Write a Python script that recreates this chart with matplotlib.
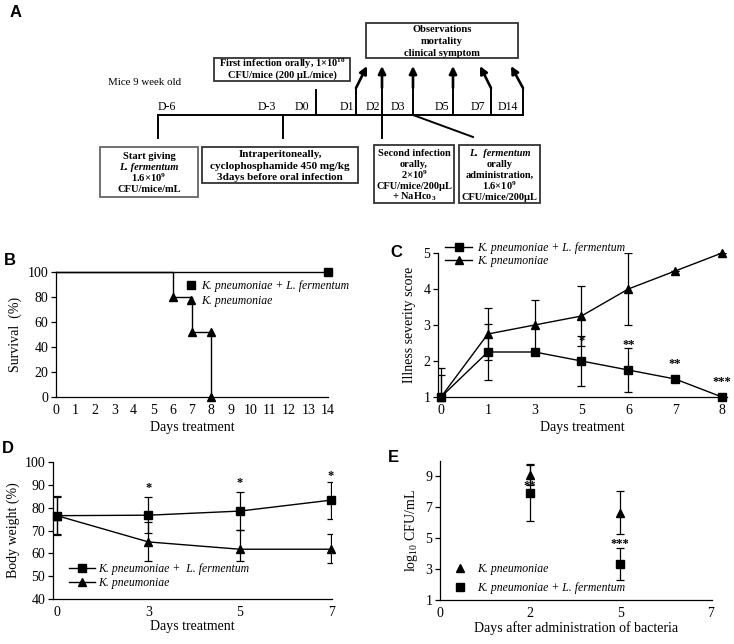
import matplotlib.pyplot as plt
from matplotlib.lines import Line2D
from matplotlib.patches import Rectangle

plt.rcParams['font.family'] = ['Liberation Serif', 'DejaVu Serif']
plt.rcParams['mathtext.fontset'] = 'custom'
plt.rcParams['mathtext.rm'] = 'Liberation Serif'
plt.rcParams['mathtext.it'] = 'Liberation Serif:italic'
plt.rcParams['mathtext.bf'] = 'Liberation Serif:bold'

KL = 'K. pneumoniae + L. fermentum'
KP = 'K. pneumoniae'

# ---- A: study timeline ----
timeline_days = ['D-6', 'D-3', 'D0', 'D1', 'D2', 'D3', 'D5', 'D7', 'D14']
arrow_days = ['D1', 'D2', 'D3', 'D5', 'D7', 'D14']
box_first = ['First infection orally, 1×10$^{\\mathbf{10}}$', 'CFU/mice (200 µL/mice)']
box_obs = ['Observations', 'mortality', 'clinical symptom']
box_start = ['Start giving', 'L. fermentum', '1.6×10$^{\\mathbf{9}}$', 'CFU/mice/mL']
box_ip = ['Intraperitoneally,', 'cyclophosphamide 450 mg/kg', '3days before oral infection']
box_second = ['Second infection', 'orally,', '2×10$^{\\mathbf{9}}$', 'CFU/mice/200µL', '+ NaHco$_{\\mathbf{3}}$']
box_lf = ['L.  fermentum', 'orally', 'administration,', '1.6×10$^{\\mathbf{9}}$', 'CFU/mice/200µL']

# ---- B: survival ----
surv_ticks = list(range(15))
surv_kl_days = [0, 14]
surv_kl = [100, 100]
surv_kp_days = [0, 6, 7, 8, 8]
surv_kp = [100, 80, 52, 52, 0]

# ---- C: illness severity ----
illness_days = ['0', '1', '3', '5', '6', '7', '8']
illness_kl = [1.0, 2.25, 2.25, 2.0, 1.75, 1.5, 1.0]
illness_kl_err = [0.8, 0.78, 0.0, 0.7, 0.6, 0.0, 0.0]
illness_kp = [1.0, 2.75, 3.0, 3.25, 4.0, 4.5, 5.0]
illness_kp_err = [0.6, 0.72, 0.7, 0.83, 1.0, 0.0, 0.0]
illness_sig = ['', '', '', '*', '**', '**', '***']
illness_sig_y = [0, 0, 0, 2.55, 2.45, 1.92, 1.42]

# ---- D: body weight ----
weight_days = ['0', '3', '5', '7']
weight_kl = [76.5, 76.7, 78.5, 83.3]
weight_kl_err = [8.5, 8.0, 8.2, 8.1]
weight_kp = [76.5, 65.0, 61.8, 61.8]
weight_kp_lo = [8.0, 8.4, 5.2, 6.1]
weight_kp_hi = [8.0, 8.7, 8.5, 6.6]
weight_sig = ['', '*', '*', '*']
weight_sig_y = [0, 88.6, 90.8, 93.9]

# ---- E: bacterial load ----
cfu_ticks = ['0', '2', '5', '7']
cfu_pos = [1, 2]
cfu_kp = [9.1, 6.65]
cfu_kp_err = [0.67, 1.4]
cfu_kl = [7.95, 3.34]
cfu_kl_err = [1.85, 1.05]
cfu_sig = ['**', '***']
cfu_sig_y = [8.35, 4.65]

W, H = 734, 644
fig = plt.figure(figsize=(W / 100, H / 100), dpi=100)


def rect(left, top, right, bottom):
    return [left / W, 1 - bottom / H, (right - left) / W, (bottom - top) / H]


def fig_xy(x, y):
    return (x / W, 1 - y / H)


# overlay for panel A and panel letters (pixel coordinates)
ov = fig.add_axes([0, 0, 1, 1])
ov.set_xlim(0, W)
ov.set_ylim(H, 0)
ov.axis('off')

lw_a = 1.4
tl_y = 115
tl_x = [158, 283, 316, 356, 382, 413, 453, 491, 523]
lab_x = [167, 267, 302, 347, 373, 398, 442, 478, 508]
ov.plot([tl_x[0], tl_x[-1]], [tl_y, tl_y], color='k', lw=lw_a)
for d, x, lx in zip(timeline_days, tl_x, lab_x):
    ov.text(lx, 107, d, ha='center', va='center', fontsize=8.5)
    if d in ('D-6', 'D-3'):
        ov.plot([x, x], [tl_y, 138], color='k', lw=lw_a)
    elif d == 'D2':
        ov.plot([x, x], [87, 138], color='k', lw=lw_a)
    else:
        ov.plot([x, x], [tl_y, 88 if d != 'D0' else 90], color='k', lw=lw_a)
arrow_dx = {'D1': 11, 'D2': 0, 'D3': 0, 'D5': 0, 'D7': -11, 'D14': -12}
for d in arrow_days:
    x = tl_x[timeline_days.index(d)]
    ov.annotate('', xy=(x + arrow_dx[d], 66), xytext=(x, 88),
                arrowprops=dict(arrowstyle='-|>', color='k', lw=1.9,
                                mutation_scale=11, shrinkA=0, shrinkB=0))
d3 = tl_x[timeline_days.index('D3')]
ov.plot([d3, 473], [tl_y, 137], color='k', lw=lw_a)
ov.text(108, 82, 'Mice 9 week old', ha='left', va='center', fontsize=7.8)


def box(x0, y0, x1, y1, lines, ys, size, italic_lines=(), ec='#333333'):
    ov.add_patch(Rectangle((x0, y0), x1 - x0, y1 - y0, fill=False, ec=ec, lw=1.3))
    for i, (t, y) in enumerate(zip(lines, ys)):
        ov.text((x0 + x1) / 2, y, t, ha='center', va='center', fontsize=size,
                fontweight='bold',
                fontstyle='italic' if i in italic_lines else 'normal')


box(214, 58, 350, 81, box_first, [63.5, 75.5], 7.5)
box(366, 23, 518, 58, box_obs, [29.5, 41.5, 53], 7.6)
box(100, 147, 198, 197, box_start, [156, 167, 177.5, 189], 7.6, (1,), ec='#666666')
box(202, 147, 358, 183, box_ip, [154.5, 166, 177], 8.0)
box(374, 145, 454, 203, box_second, [153, 164, 175, 186, 197], 7.5)
box(459, 145, 540, 203, box_lf, [153, 164, 175, 186, 197], 7.5, (0,))

for letter, x, y in [('A', 16, 12), ('B', 10, 260), ('C', 396, 252),
                     ('D', 8, 448), ('E', 393, 457)]:
    ov.text(x, y, letter, ha='center', va='center', fontsize=12,
            fontweight='bold', family='Liberation Sans')


def style(ax):
    for s in ('top', 'right'):
        ax.spines[s].set_visible(False)
    for s in ('left', 'bottom'):
        ax.spines[s].set_linewidth(0.9)
    ax.tick_params(axis='y', direction='out', length=3.5, width=0.9, labelsize=10, pad=2)
    ax.tick_params(axis='x', length=0, labelsize=10, pad=5)
    ax.set_facecolor('none')


eb = dict(color='k', ecolor='k', elinewidth=0.9, capsize=3, capthick=0.9)
leg_kw = dict(frameon=False, prop={'style': 'italic', 'size': 8.5}, borderpad=0,
              borderaxespad=0)


def series(ax, x, y, err, marker, **kw):
    c = ax.errorbar(x, y, yerr=err, marker=marker, ms=6, **eb, **kw)
    c.lines[0].set_clip_on(False)
    return c


# ---- B ----
axB = fig.add_axes(rect(56, 272, 328, 397))
style(axB)
axB.plot(surv_kl_days, surv_kl, color='k', lw=1.0, clip_on=False)
axB.plot(surv_kl_days[-1:], surv_kl[-1:], 's', color='k', ms=5.5, clip_on=False)
axB.plot(surv_kp_days, surv_kp, color='k', lw=1.0, drawstyle='steps-post', clip_on=False)
axB.plot(surv_kp_days[1:], surv_kp[1:], '^', color='k', ms=5.5, clip_on=False)
axB.set_xlim(0, 14)
axB.set_ylim(0, 100)
axB.set_xticks(surv_ticks)
axB.set_yticks([0, 20, 40, 60, 80, 100])
axB.set_xlabel('Days treatment', fontsize=10, labelpad=3)
axB.set_ylabel('Survival  (%)', fontsize=10, labelpad=4)
axB.legend([Line2D([], [], marker='s', ls='none', color='k', ms=5.5),
            Line2D([], [], marker='^', ls='none', color='k', ms=5.5)], [KL, KP],
           loc='center left', bbox_to_anchor=fig_xy(185, 293.5),
           bbox_transform=fig.transFigure, handlelength=1.0, handletextpad=0.35,
           labelspacing=0.3, **leg_kw)

# ---- C ----
axC = fig.add_axes(rect(438, 253, 727, 397))
style(axC)
xc = list(range(len(illness_days)))
series(axC, xc, illness_kl, illness_kl_err, 's', lw=1.0)
series(axC, xc, illness_kp, illness_kp_err, '^', lw=1.0)
for x, s, y in zip(xc, illness_sig, illness_sig_y):
    if s:
        axC.text(x, y, s, ha='center', va='center', fontsize=9, fontweight='bold')
axC.set_xlim(-0.064, 6.107)
axC.set_ylim(1, 5)
axC.set_xticks(xc)
axC.set_xticklabels(illness_days)
axC.set_yticks([1, 2, 3, 4, 5])
axC.set_xlabel('Days treatment', fontsize=10, labelpad=3)
axC.set_ylabel('Illness severity score', fontsize=10, labelpad=5)
axC.legend([Line2D([], [], color='k', marker='s', ms=6, lw=1.0),
            Line2D([], [], color='k', marker='^', ms=6, lw=1.0)], [KL, KP],
           loc='center left', bbox_to_anchor=fig_xy(445, 254.5),
           bbox_transform=fig.transFigure, handlelength=2.3, handletextpad=0.4,
           labelspacing=0.1, **leg_kw)

# ---- D ----
axD = fig.add_axes(rect(53, 462, 332, 599))
style(axD)
xd = list(range(len(weight_days)))
series(axD, xd, weight_kl, weight_kl_err, 's', lw=1.0)
series(axD, xd, weight_kp, [weight_kp_lo, weight_kp_hi], '^', lw=1.0)
for x, s, y in zip(xd, weight_sig, weight_sig_y):
    if s:
        axD.text(x, y, s, ha='center', va='center', fontsize=9, fontweight='bold')
axD.set_xlim(-0.044, 3.01)
axD.set_ylim(40, 100)
axD.set_xticks(xd)
axD.set_xticklabels(weight_days)
axD.set_yticks(range(40, 101, 10))
axD.set_xlabel('Days treatment', fontsize=10, labelpad=1)
axD.set_ylabel('Body weight (%)', fontsize=10, labelpad=3)
axD.legend([Line2D([], [], color='k', marker='s', ms=6, lw=1.0),
            Line2D([], [], color='k', marker='^', ms=6, lw=1.0)],
           ['K. pneumoniae +  L. fermentum', KP],
           loc='center left', bbox_to_anchor=fig_xy(69, 576),
           bbox_transform=fig.transFigure, handlelength=2.2, handletextpad=0.25,
           labelspacing=0.2, **leg_kw)

# ---- E ----
axE = fig.add_axes(rect(440, 461, 712, 600))
style(axE)
series(axE, cfu_pos, cfu_kp, cfu_kp_err, '^', ls='none')
series(axE, cfu_pos, cfu_kl, cfu_kl_err, 's', ls='none')
for x, s, y in zip(cfu_pos, cfu_sig, cfu_sig_y):
    axE.text(x, y, s, ha='center', va='center', fontsize=9, fontweight='bold')
axE.set_xlim(0, 3.02)
axE.set_ylim(1, 10)
axE.set_xticks(range(len(cfu_ticks)))
axE.set_xticklabels(cfu_ticks)
axE.set_yticks([1, 3, 5, 7, 9])
axE.set_xlabel('Days after administration of bacteria', fontsize=10, labelpad=1)
axE.set_ylabel('log$_{10}$ CFU/mL', fontsize=10, labelpad=4)
axE.legend([Line2D([], [], marker='^', ls='none', color='k', ms=5.5),
            Line2D([], [], marker='s', ls='none', color='k', ms=5.5)], [KP, KL],
           loc='center left', bbox_to_anchor=fig_xy(454, 578.5),
           bbox_transform=fig.transFigure, handlelength=1.0, handletextpad=0.95,
           labelspacing=0.55, **leg_kw)

fig.savefig('out.png', dpi=100)
